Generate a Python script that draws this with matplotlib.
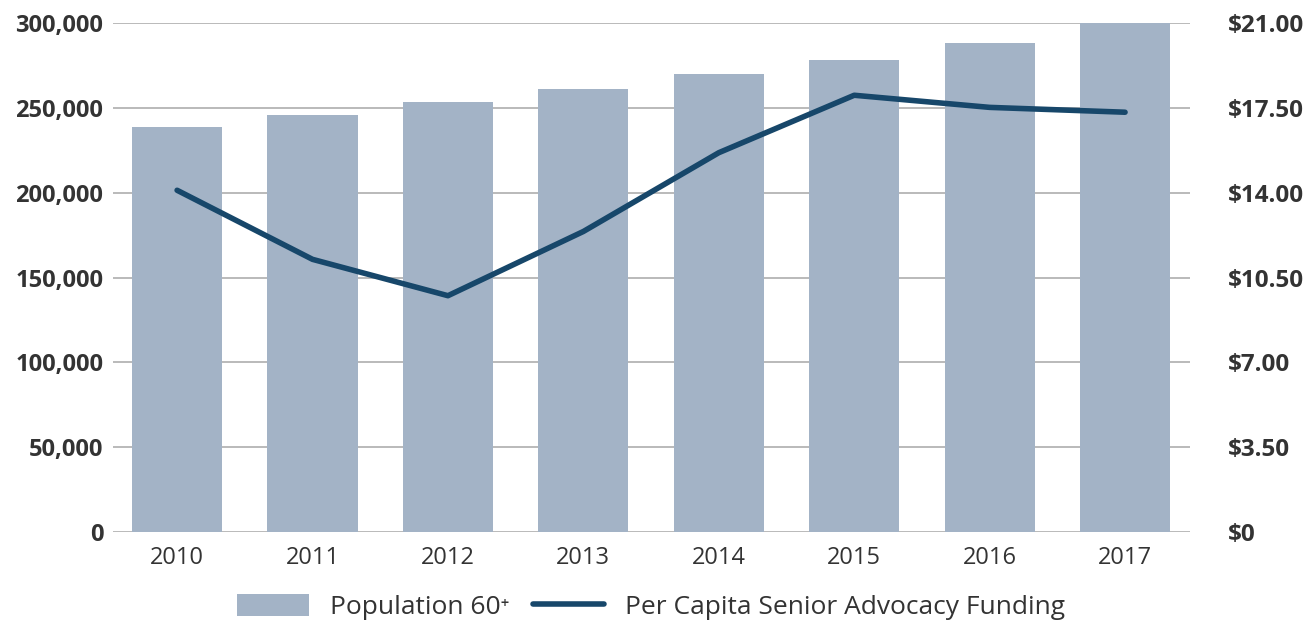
import matplotlib.pyplot as plt
import numpy as np
from matplotlib.ticker import FuncFormatter

plt.rcParams['font.family'] = ['Open Sans', 'DejaVu Sans']

years = ['2010', '2011', '2012', '2013', '2014', '2015', '2016', '2017']
population = [239000, 246000, 253500, 261000, 270000, 278000, 288000, 300000]
funding = [14.10, 11.25, 9.75, 12.40, 15.65, 18.02, 17.52, 17.32]

bar_color = '#a3b3c6'
line_color = '#17476a'
grid_color = '#b4b4b4'
text_color = '#333333'

fig = plt.figure(figsize=(13.16, 6.24), dpi=100)
ax = fig.add_axes([0.0859, 0.1474, 0.8184, 0.8157])
ax2 = ax.twinx()

x = np.arange(len(years))
ax.set_axisbelow(True)
bars = ax.bar(x, population, width=0.665, color=bar_color, label='Population 60⁺', zorder=2)
ax.set_ylim(0, 300000)
ax.set_yticks(np.arange(0, 300001, 50000))
ax.yaxis.set_major_formatter(FuncFormatter(lambda v, p: f'{int(v):,}'))
ax.grid(axis='y', color=grid_color, linewidth=1.3, zorder=0)
ax.set_xlim(-0.473, 7.48)
ax.set_xticks(x)
ax.set_xticklabels(years)

line, = ax2.plot(x, funding, color=line_color, linewidth=4.0, solid_capstyle='round',
                 solid_joinstyle='round', label='Per Capita Senior Advocacy Funding')
ax2.set_ylim(0, 21)
ax2.set_yticks(np.arange(0, 21.01, 3.5))
ax2.yaxis.set_major_formatter(FuncFormatter(lambda v, p: '$0' if v == 0 else f'${v:.2f}'))

for a in (ax, ax2):
    for s in a.spines.values():
        s.set_visible(False)
    a.tick_params(length=0, colors=text_color)

ax.tick_params(axis='y', labelsize=17, pad=7)
ax2.tick_params(axis='y', labelsize=17.5, pad=27)
ax.tick_params(axis='x', labelsize=17, pad=10)
for lbl in ax.get_yticklabels() + ax2.get_yticklabels():
    lbl.set_fontweight('bold')

fig.legend(handles=[bars, line], loc='center', bbox_to_anchor=(0.495, 0.027),
           ncol=2, frameon=False, fontsize=19, handlelength=2.7, handleheight=0.9,
           columnspacing=0.9, labelcolor=text_color)

fig.savefig('out.png', dpi=100)
